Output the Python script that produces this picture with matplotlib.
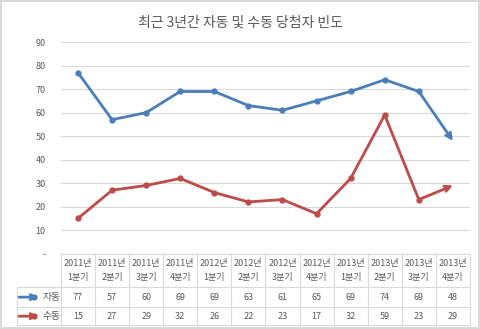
import numpy as np
import matplotlib.pyplot as plt
from matplotlib.lines import Line2D

plt.rcParams['font.family'] = ['Noto Sans CJK KR', 'DejaVu Sans']

# 데이터
quarters = ['2011년\n1분기', '2011년\n2분기', '2011년\n3분기', '2011년\n4분기',
            '2012년\n1분기', '2012년\n2분기', '2012년\n3분기', '2012년\n4분기',
            '2013년\n1분기', '2013년\n2분기', '2013년\n3분기', '2013년\n4분기']
auto = [77, 57, 60, 69, 69, 63, 61, 65, 69, 74, 69, 48]
manual = [15, 27, 29, 32, 26, 22, 23, 17, 32, 59, 23, 29]
names = ['자동', '수동']
colors = ['#4A7EBB', '#BE4B48']
yticks = [0, 10, 20, 30, 40, 50, 60, 70, 80, 90]

fig = plt.figure(figsize=(4.8, 3.29), dpi=100)
fig.patch.set_edgecolor('#d9d9d9')
fig.patch.set_linewidth(1.5)
ax = fig.add_axes([0.127, 0.229, 0.852, 0.643])

x = np.arange(len(quarters))
for vals, c in zip([auto, manual], colors):
    ax.plot(x[:-1], vals[:-1], color=c, lw=2, marker='o', ms=3.5)
    ax.annotate('', xy=(x[-1], vals[-1]), xytext=(x[-2], vals[-2]),
                arrowprops=dict(arrowstyle='->', color=c, lw=2, mutation_scale=10,
                                shrinkA=0, shrinkB=0))

ax.set_xlim(-0.5, len(quarters) - 0.5)
ax.set_ylim(0, 90)
ax.set_yticks(yticks)
ax.set_yticklabels(['-'] + [str(v) for v in yticks[1:]])
ax.set_xticks([])
ax.tick_params(axis='y', length=0, pad=11, labelsize=6.5, labelcolor='#595959')
ax.grid(axis='y', color='#d9d9d9', lw=0.8)
ax.set_axisbelow(True)
for s in ['top', 'right', 'left', 'bottom']:
    ax.spines[s].set_visible(False)

fig.text(0.5, 0.933, '최근 3년간 자동 및 수동 당첨자 빈도', ha='center', va='center',
         fontsize=10, color='#595959')

# 데이터 표
tc = '#d9d9d9'
kw = dict(transform=ax.transAxes, clip_on=False, color=tc, lw=0.8)
rows_y = [0, -0.158, -0.253, -0.338]
lab_left = (17 - 61) / (470 - 61)
ax.add_line(Line2D([0, 1], [rows_y[0]] * 2, **kw))
for yy in rows_y[1:]:
    ax.add_line(Line2D([lab_left, 1], [yy] * 2, **kw))
ax.add_line(Line2D([lab_left, lab_left], [rows_y[1], rows_y[3]], **kw))
for i in range(len(quarters) + 1):
    xx = i / len(quarters)
    ax.add_line(Line2D([xx, xx], [rows_y[0], rows_y[3]], **kw))

for i, q in enumerate(quarters):
    xx = (i + 0.5) / len(quarters)
    ax.text(xx, (rows_y[0] + rows_y[1]) / 2, q, transform=ax.transAxes, ha='center',
            va='center', fontsize=6.5, color='#595959', linespacing=1.7)
    for r, vals in enumerate([auto, manual]):
        ax.text(xx, (rows_y[r + 1] + rows_y[r + 2]) / 2, str(vals[i]),
                transform=ax.transAxes, ha='center', va='center', fontsize=6.5,
                color='#595959')

for r, (nm, c) in enumerate(zip(names, colors)):
    ym = (rows_y[r + 1] + rows_y[r + 2]) / 2
    ax.annotate('', xy=(lab_left + 0.052, ym), xytext=(lab_left + 0.005, ym),
                xycoords='axes fraction', textcoords='axes fraction',
                arrowprops=dict(arrowstyle='->', color=c, lw=2, mutation_scale=9,
                                shrinkA=0, shrinkB=0))
    ax.plot([lab_left + 0.042], [ym], marker='o', ms=3.5, color=c,
            transform=ax.transAxes, clip_on=False)
    ax.text(lab_left + 0.062, ym, nm, transform=ax.transAxes, ha='left', va='center',
            fontsize=7, color='#595959')

fig.savefig('out.png', dpi=100)
